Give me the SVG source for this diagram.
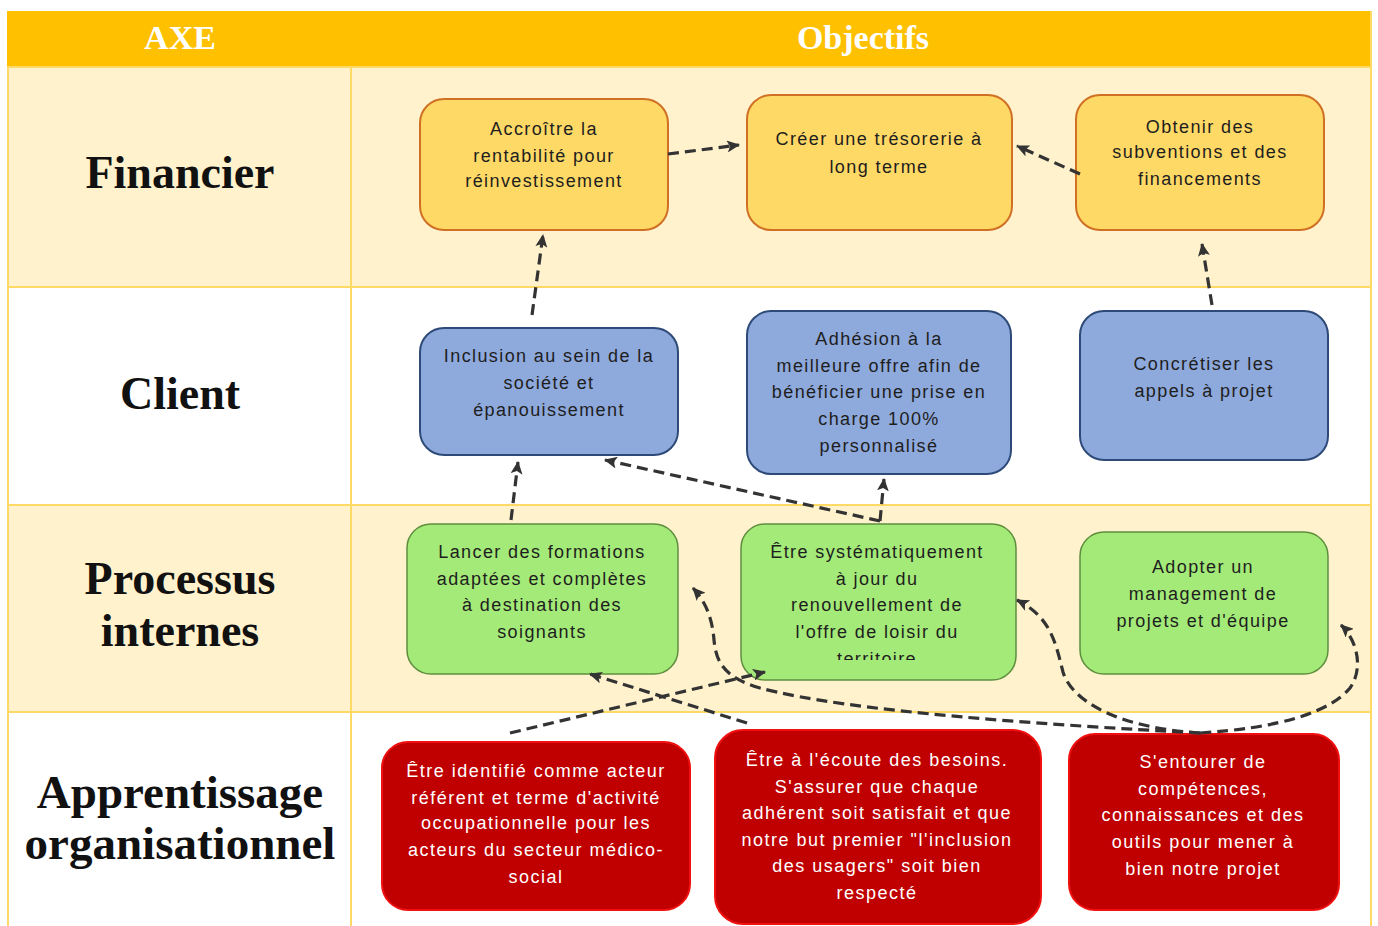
<svg xmlns="http://www.w3.org/2000/svg" width="1378" height="926" viewBox="0 0 1378 926">
<style>
.axis{font-family:"Liberation Serif","Times New Roman",serif;font-weight:bold;font-size:46px;fill:#111;text-anchor:middle}
.axl{font-size:47px}
.head{font-family:"Liberation Serif","Times New Roman",serif;font-weight:bold;font-size:34px;fill:#fff;text-anchor:middle}
.t{font-family:"Liberation Sans",Arial,sans-serif;font-size:18px;letter-spacing:1.4px;fill:#1e1e1e;text-anchor:middle}
.tw{font-family:"Liberation Sans",Arial,sans-serif;font-size:18px;letter-spacing:1.5px;fill:#fff;text-anchor:middle}
.y{fill:#FFD966;stroke:#D07024;stroke-width:2}
.b{fill:#8EA9DB;stroke:#2E4A78;stroke-width:2}
.g{fill:#A4EA78;stroke:#5E8E3E;stroke-width:1.5}
.r{fill:#C00000;stroke:#F01010;stroke-width:2}
.c{fill:none;stroke:#333;stroke-width:3.2;stroke-dasharray:11 6;marker-end:url(#arr)}
</style>
<defs>
<marker id="arr" markerWidth="14" markerHeight="12" refX="12" refY="6" orient="auto" markerUnits="userSpaceOnUse">
<path d="M0,0 L13,6 L0,12 L3,6 Z" fill="#333"/>
</marker>
<clipPath id="clipC2"><rect x="741" y="524" width="276" height="136"/></clipPath>
</defs>
<rect width="1378" height="926" fill="#fff"/>
<g id="table">
<rect x="7" y="11" width="1365" height="56" fill="#FFC000"/>
<rect x="7" y="67" width="1365" height="220" fill="#FFF2CC"/>
<rect x="7" y="287" width="1365" height="218" fill="#fff"/>
<rect x="7" y="505" width="1365" height="207" fill="#FFF2CC"/>
<rect x="7" y="712" width="1365" height="214" fill="#fff"/>
<g stroke="#FFD966" stroke-width="2" fill="none">
<line x1="7" y1="67" x2="1372" y2="67"/>
<line x1="7" y1="287" x2="1372" y2="287"/>
<line x1="7" y1="505" x2="1372" y2="505"/>
<line x1="7" y1="712" x2="1372" y2="712"/>
<line x1="351" y1="67" x2="351" y2="926"/>
<line x1="8" y1="67" x2="8" y2="926"/>
<line x1="1371" y1="11" x2="1371" y2="926"/>
</g>
<text class="head" x="180" y="49">AXE</text>
<text class="head" x="863" y="49">Objectifs</text>
<text class="axis" x="180" y="188">Financier</text>
<text class="axis" x="180" y="409">Client</text>
<text class="axis" x="180" y="594">Processus</text>
<text class="axis" x="180" y="646">internes</text>
<text class="axis axl" x="180" y="808">Apprentissage</text>
<text class="axis axl" x="180" y="859">organisationnel</text>
</g>
<g id="n_accroitre">
<rect class="y" x="420" y="99" width="248" height="131" rx="24"/>
<text class="t" x="544" y="135">Accroître la</text>
<text class="t" x="544" y="162">rentabilité pour</text>
<text class="t" x="544" y="187">réinvestissement</text>
</g>
<g id="n_tresorerie">
<rect class="y" x="747" y="95" width="265" height="135" rx="24"/>
<text class="t" x="879" y="145">Créer une trésorerie à</text>
<text class="t" x="879" y="173">long terme</text>
</g>
<g id="n_subventions">
<rect class="y" x="1076" y="95" width="248" height="135" rx="24"/>
<text class="t" x="1200" y="133">Obtenir des</text>
<text class="t" x="1200" y="158">subventions et des</text>
<text class="t" x="1200" y="185">financements</text>
</g>
<g id="n_inclusion">
<rect class="b" x="420" y="328" width="258" height="127" rx="24"/>
<text class="t" x="549" y="362">Inclusion au sein de la</text>
<text class="t" x="549" y="389">société et</text>
<text class="t" x="549" y="416">épanouissement</text>
</g>
<g id="n_adhesion">
<rect class="b" x="747" y="311" width="264" height="163" rx="24"/>
<text class="t" x="879" y="345">Adhésion à la</text>
<text class="t" x="879" y="372">meilleure offre afin de</text>
<text class="t" x="879" y="398">bénéficier une prise en</text>
<text class="t" x="879" y="425">charge 100%</text>
<text class="t" x="879" y="452">personnalisé</text>
</g>
<g id="n_appels">
<rect class="b" x="1080" y="311" width="248" height="149" rx="24"/>
<text class="t" x="1204" y="370">Concrétiser les</text>
<text class="t" x="1204" y="397">appels à projet</text>
</g>
<g id="n_formations">
<rect class="g" x="407" y="524" width="271" height="150" rx="24"/>
<text class="t" x="542" y="558">Lancer des formations</text>
<text class="t" x="542" y="585">adaptées et complètes</text>
<text class="t" x="542" y="611">à destination des</text>
<text class="t" x="542" y="638">soignants</text>
</g>
<g id="n_systematique">
<rect class="g" x="741" y="524" width="275" height="156" rx="24"/>
<g clip-path="url(#clipC2)">
<text class="t" x="877" y="558">Être systématiquement</text>
<text class="t" x="877" y="585">à jour du</text>
<text class="t" x="877" y="611">renouvellement de</text>
<text class="t" x="877" y="638">l'offre de loisir du</text>
<text class="t" x="877" y="665">territoire</text>
</g>
</g>
<g id="n_management">
<rect class="g" x="1080" y="532" width="248" height="142" rx="24"/>
<text class="t" x="1203" y="573">Adopter un</text>
<text class="t" x="1203" y="600">management de</text>
<text class="t" x="1203" y="627">projets et d'équipe</text>
</g>
<g id="n_identifie">
<rect class="r" x="382" y="742" width="308" height="168" rx="26"/>
<text class="tw" x="536" y="777">Être identifié comme acteur</text>
<text class="tw" x="536" y="804">référent et terme d'activité</text>
<text class="tw" x="536" y="829">occupationnelle pour les</text>
<text class="tw" x="536" y="856">acteurs du secteur médico-</text>
<text class="tw" x="536" y="883">social</text>
</g>
<g id="n_ecoute">
<rect class="r" x="715" y="730" width="326" height="194" rx="28"/>
<text class="tw" x="877" y="766">Être à l'écoute des besoins.</text>
<text class="tw" x="877" y="793">S'assurer que chaque</text>
<text class="tw" x="877" y="819">adhérent soit satisfait et que</text>
<text class="tw" x="877" y="846">notre but premier "l'inclusion</text>
<text class="tw" x="877" y="872">des usagers" soit bien</text>
<text class="tw" x="877" y="899">respecté</text>
</g>
<g id="n_entourer">
<rect class="r" x="1069" y="734" width="270" height="176" rx="26"/>
<text class="tw" x="1203" y="768">S'entourer de</text>
<text class="tw" x="1203" y="795">compétences,</text>
<text class="tw" x="1203" y="821">connaissances et des</text>
<text class="tw" x="1203" y="848">outils pour mener à</text>
<text class="tw" x="1203" y="875">bien notre projet</text>
</g>
<g id="connectors">
<path class="c" d="M668,154 L739,145"/>
<path class="c" d="M1080,174 L1017,146"/>
<path class="c" d="M532,315 L543,235"/>
<path class="c" d="M1212,305 L1202,244"/>
<path class="c" d="M511,520 L518,462"/>
<path class="c" d="M880,521 L605,460"/>
<path class="c" d="M880,521 L884,479"/>
<path class="c" d="M510,733 L765,672"/>
<path class="c" d="M747,723 L590,674"/>
<path class="c" d="M1200,733 C1050,725 850,712 760,688 C722,677 716,660 714,640 C712,615 704,600 693,588"/>
<path class="c" d="M1200,733 C1120,728 1072,702 1063,672 C1055,640 1050,617 1017,600"/>
<path class="c" d="M1200,733 C1280,728 1330,712 1350,688 C1364,668 1357,640 1341,625"/>
</g>
</svg>
